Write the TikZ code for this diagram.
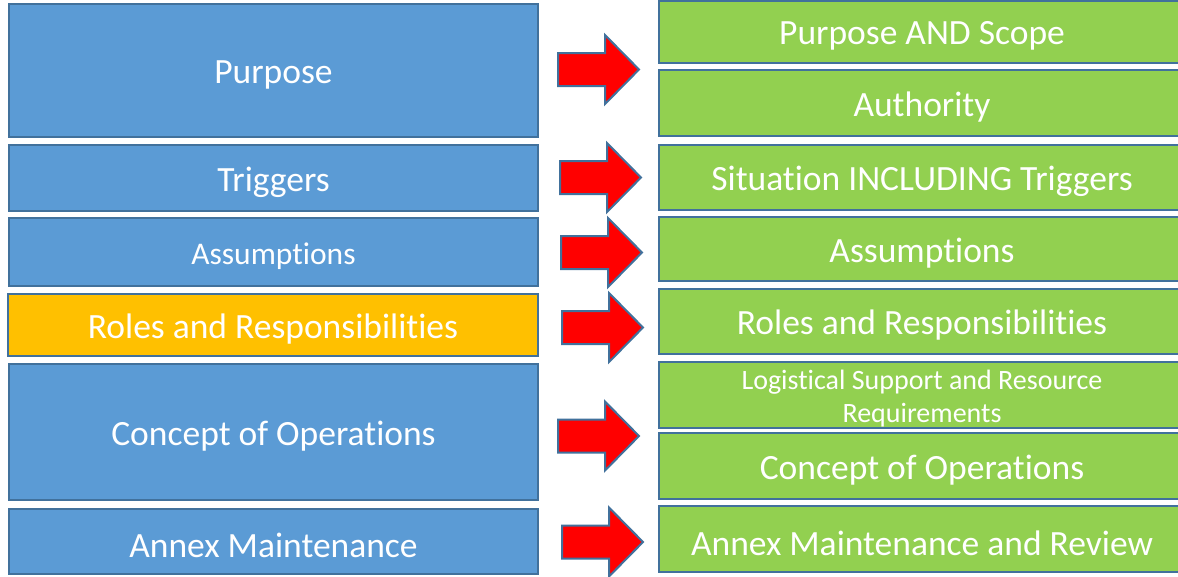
\documentclass[tikz,border=0pt]{standalone}
\usepackage{fontspec}
\setmainfont{Carlito}[Ligatures={NoCommon}]
\usetikzlibrary{fit}
\definecolor{bblue}{HTML}{5B9BD5}
\definecolor{ggreen}{HTML}{92D050}
\definecolor{oorange}{HTML}{FFC000}
\definecolor{edge}{HTML}{41719C}
\definecolor{rred}{HTML}{FF0000}
\tikzset{
  box/.style={draw=edge, line width=2pt, inner sep=0pt},
  bluebox/.style={box, fill=bblue},
  greenbox/.style={box, fill=ggreen},
  orangebox/.style={box, fill=oorange},
  txt/.style={text=white, align=center, yshift=-4pt, font=\fontsize{35.5}{38}\selectfont},
  smalltxt/.style={txt, font=\fontsize{31.5}{34}\selectfont},
  tinytxt/.style={txt, font=\fontsize{28}{33}\selectfont},
  redarrow/.style={draw=edge, fill=rred, line width=2pt, line join=miter}
}
\newcommand\rarrow[3]{% name, left x, center y
  \path[redarrow] (#2,#3-16.5) -- (#2+47,#3-16.5) -- (#2+47,#3-34.5) -- (#2+81,#3)
    -- (#2+47,#3+34.5) -- (#2+47,#3+16.5) -- (#2,#3+16.5) -- cycle;
  \coordinate (#1) at (#2+40,#3);
}
\begin{document}
\begin{tikzpicture}[x=1pt,y=-1pt]
\useasboundingbox (0,0) rectangle (1178,576);
\fill[white] (0,0) rectangle (1178,576);
% left column
\node[bluebox, fit={(9,4) (538,137)}] (l1) {};
\node[txt] at (l1.center) (l1t) {Purpose};
\node[bluebox, fit={(9,145) (538,211)}] (l2) {};
\node[txt] at (l2.center) (l2t) {Triggers};
\node[bluebox, fit={(9,218) (538,286)}] (l3) {};
\node[smalltxt] at (l3.center) (l3t) {Assumptions};
\node[orangebox, fit={(8,294) (538,356)}] (l4) {};
\node[txt] at (l4.center) (l4t) {Roles and Responsibilities};
\node[bluebox, fit={(9,364) (538,500)}] (l5) {};
\node[txt] at (l5.center) (l5t) {Concept of Operations};
\node[bluebox, fit={(9,509) (538,574)}] (l6) {};
\node[txt] at (l6.center) (l6t) {Annex Maintenance};
% right column
\node[greenbox, fit={(659,1) (1185,63)}] (r1) {};
\node[txt] at (r1.center-|922,0) (r1t) {Purpose AND Scope};
\node[greenbox, fit={(659,70) (1185,136)}] (r2) {};
\node[txt] at (r2.center-|922,0) (r2t) {Authority};
\node[greenbox, fit={(659,145) (1185,210)}] (r3) {};
\node[txt] at (r3.center-|922,0) (r3t) {Situation INCLUDING Triggers};
\node[greenbox, fit={(659,217) (1185,281)}] (r4) {};
\node[txt] at (r4.center-|922,0) (r4t) {Assumptions};
\node[greenbox, fit={(659,289) (1185,354)}] (r5) {};
\node[txt] at (r5.center-|922,0) (r5t) {Roles and Responsibilities};
\node[greenbox, fit={(659,362) (1185,428)}] (r6) {};
\node[tinytxt] at (r6.center-|922,0) (r6t) {Logistical Support and Resource\\Requirements};
\node[greenbox, fit={(659,433) (1185,499)}] (r7) {};
\node[txt] at (r7.center-|922,0) (r7t) {Concept of Operations};
\node[greenbox, fit={(659,506) (1185,572)}] (r8) {};
\node[txt] at (r8.center-|922,0) (r8t) {Annex Maintenance and Review};
% arrows
\rarrow{a1}{558}{69.5}
\rarrow{a2}{560}{177.5}
\rarrow{a3}{561}{252.5}
\rarrow{a4}{562}{327.5}
\rarrow{a5}{558}{436}
\rarrow{a6}{562}{542}
\end{tikzpicture}
\end{document}
